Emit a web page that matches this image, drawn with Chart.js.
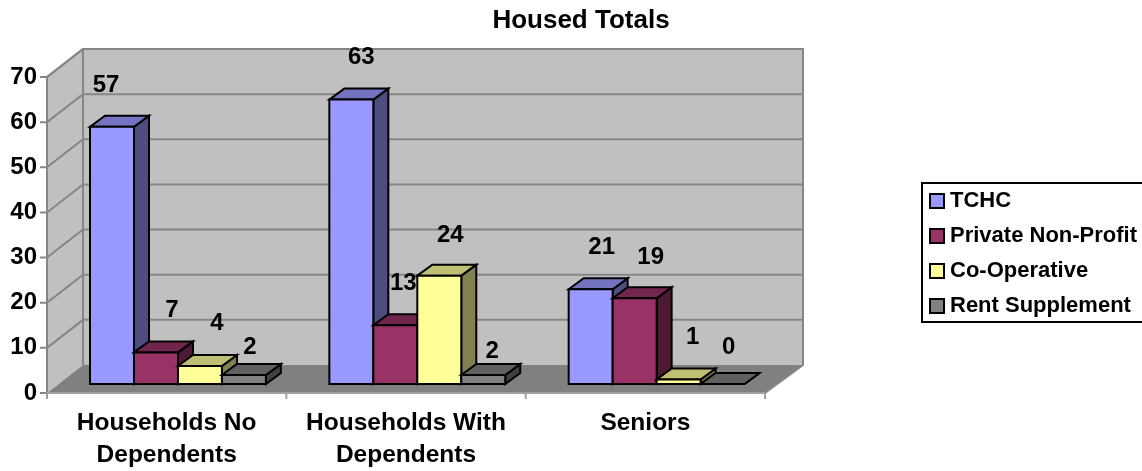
<!DOCTYPE html>
<html>
<head>
<meta charset="utf-8">
<title>Housed Totals</title>
<style>
  html, body { margin: 0; padding: 0; background: #fff; }
  canvas { display: block; }
</style>
<script src="https://cdn.jsdelivr.net/npm/chart.js@4"></script>
</head>
<body>
<canvas id="chart" width="1142" height="471"></canvas>
<script>
const chartTitle = "Housed Totals";
const categories = [["Households No", "Dependents"], ["Households With", "Dependents"], ["Seniors"]];
const seriesNames = ["TCHC", "Private Non-Profit", "Co-Operative", "Rent Supplement"];
const tchc = [57, 63, 21];
const privateNonProfit = [7, 13, 19];
const coOperative = [4, 24, 1];
const rentSupplement = [2, 2, 0];
const yTicks = [0, 10, 20, 30, 40, 50, 60, 70];

const frontColors = ["#9999FF", "#993366", "#FFFF99", "#808080"];
const topColors = ["#7373BF", "#73264D", "#BFBF73", "#606060"];
const sideColors = ["#4D4D80", "#4D1A33", "#808050", "#404040"];

// label nudges from the bar's top centre, one [dx, dy] per series/category
const labelNudges = [
  [[-6, -41], [10, -42], [11, -42]],
  [[16, -42], [8, -42], [16, -41]],
  [[17, -43], [11, -40], [14, -42]],
  [[6, -28], [9, -24], [6, -37]]
];

const FONT = "'Liberation Sans', Arial, sans-serif";
const WALL = "#C0C0C0", WALL_LINE = "#868686", FLOOR = "#808080", AXIS_LINE = "#A0A0A0";
const wallDx = 36, wallDy = 28;       // depth of the chart box
const barShiftX = 11.3, barShiftY = 9; // bars stand inside the floor
const barDx = 15, barDy = 11;         // depth of one bar

function poly(ctx, pts, fill, stroke, lw) {
  ctx.beginPath();
  pts.forEach((p, i) => (i ? ctx.lineTo(p[0], p[1]) : ctx.moveTo(p[0], p[1])));
  ctx.closePath();
  if (fill) { ctx.fillStyle = fill; ctx.fill(); }
  if (stroke) { ctx.strokeStyle = stroke; ctx.lineWidth = lw; ctx.stroke(); }
}

const box3d = {
  id: "box3d",
  beforeDatasetsDraw(chart) {
    const { ctx, chartArea: a, scales: { x, y } } = chart;
    ctx.save();
    ctx.lineJoin = "miter";
    // walls and floor
    poly(ctx, [[a.left, a.bottom], [a.left, a.top], [a.left + wallDx, a.top - wallDy], [a.left + wallDx, a.bottom - wallDy]], WALL);
    poly(ctx, [[a.left + wallDx, a.top - wallDy], [a.right + wallDx + 2, a.top - wallDy], [a.right + wallDx + 2, a.bottom - wallDy], [a.left + wallDx, a.bottom - wallDy]], WALL);
    poly(ctx, [[a.left, a.bottom], [a.right, a.bottom], [a.right + wallDx + 2, a.bottom - wallDy], [a.left + wallDx, a.bottom - wallDy]], FLOOR);

    // grid lines on the walls, tick marks on the front
    ctx.strokeStyle = WALL_LINE;
    ctx.lineWidth = 2;
    yTicks.forEach((v) => {
      const py = y.getPixelForValue(v);
      ctx.beginPath();
      if (v > 0) {
        ctx.moveTo(a.left, py);
        ctx.lineTo(a.left + wallDx, py - wallDy);
        ctx.lineTo(a.right + wallDx + 2, py - wallDy);
      }
      ctx.moveTo(a.left - 7, py);
      ctx.lineTo(a.left, py);
      ctx.stroke();
    });
    // outline
    ctx.beginPath();
    ctx.moveTo(a.left, a.bottom);
    ctx.lineTo(a.left, a.top);
    ctx.lineTo(a.left + wallDx, a.top - wallDy);
    ctx.lineTo(a.right + wallDx + 2, a.top - wallDy);
    ctx.lineTo(a.right + wallDx + 2, a.bottom - wallDy);
    ctx.lineTo(a.right, a.bottom);
    ctx.moveTo(a.left + wallDx, a.top - wallDy);
    ctx.lineTo(a.left + wallDx, a.bottom - wallDy);
    ctx.stroke();

    ctx.strokeStyle = AXIS_LINE;
    ctx.beginPath();
    ctx.moveTo(a.left, a.bottom);
    ctx.lineTo(a.right, a.bottom);
    for (let i = 0; i <= categories.length; i++) {
      const px = a.left + (a.right - a.left) * i / categories.length;
      ctx.moveTo(px, a.bottom);
      ctx.lineTo(px, a.bottom + 6);
    }
    ctx.stroke();

    // bars left to right, so later series overlap the sides of earlier ones
    ctx.translate(barShiftX, -barShiftY);
    ctx.lineWidth = 2;
    categories.forEach((c, ci) => {
      chart.data.datasets.forEach((ds, si) => {
        const el = chart.getDatasetMeta(si).data[ci];
        const { x: cx, y: top, base, width } = el.getProps(["x", "y", "base", "width"], true);
        const l = cx - width / 2, r = cx + width / 2;
        poly(ctx, [[r, top], [r + barDx, top - barDy], [r + barDx, base - barDy], [r, base]], sideColors[si], "#000", 2);
        poly(ctx, [[l, top], [l + barDx, top - barDy], [r + barDx, top - barDy], [r, top]], topColors[si], "#000", 2);
        poly(ctx, [[l, top], [r, top], [r, base], [l, base]], frontColors[si], "#000", 2);
      });
    });
    ctx.restore();
  },
  beforeDatasetDraw() {
    return false; // the bars are painted above with their depth faces
  },
  afterDraw(chart) {
    const { ctx } = chart;
    ctx.save();
    ctx.fillStyle = "#000";
    ctx.textAlign = "center";
    ctx.textBaseline = "middle";

    // title
    ctx.font = "bold 26px " + FONT;
    ctx.fillText(chartTitle, 581, 21);

    // value labels
    ctx.font = "bold 24px " + FONT;
    chart.data.datasets.forEach((ds, si) => {
      chart.getDatasetMeta(si).data.forEach((el, ci) => {
        const n = labelNudges[si][ci];
        ctx.fillText(String(ds.data[ci]), el.x + barShiftX + n[0], el.y - barShiftY + n[1]);
      });
    });

    // legend
    ctx.strokeStyle = "#000";
    ctx.lineWidth = 2;
    ctx.strokeRect(922, 183, 230, 139);
    ctx.textAlign = "left";
    ctx.font = "bold 22px " + FONT;
    seriesNames.forEach((name, i) => {
      const cy = 201 + i * 35;
      ctx.fillStyle = frontColors[i];
      ctx.fillRect(930, cy - 7, 14, 14);
      ctx.strokeRect(930, cy - 7, 14, 14);
      ctx.fillStyle = "#000";
      ctx.fillText(name, 950, cy);
    });
    ctx.restore();
  }
};

const seriesValues = [tchc, privateNonProfit, coOperative, rentSupplement];

new Chart(document.getElementById("chart"), {
  type: "bar",
  data: {
    labels: categories,
    datasets: seriesNames.map((name, i) => ({
      label: name,
      data: seriesValues[i],
      backgroundColor: frontColors[i],
      borderColor: "#000",
      borderWidth: 2,
      categoryPercentage: 0.735,
      barPercentage: 1
    }))
  },
  options: {
    responsive: false,
    animation: false,
    layout: { padding: { top: 77, right: 377, left: 0, bottom: 0 } },
    plugins: {
      legend: { display: false },
      title: { display: false },
      tooltip: { enabled: false }
    },
    scales: {
      x: {
        grid: { display: false },
        border: { display: false },
        afterFit(s) { s.height = 78; },
        ticks: {
          color: "#000",
          maxRotation: 0,
          padding: 6,
          font: { family: FONT, weight: "bold", size: 24.5, lineHeight: 1.3 }
        }
      },
      y: {
        min: 0,
        max: 70,
        grid: { display: false },
        border: { display: false },
        afterFit(s) { s.width = 47; },
        afterBuildTicks(s) { s.ticks = yTicks.map((v) => ({ value: v })); },
        ticks: {
          color: "#000",
          padding: 2,
          font: { family: FONT, weight: "bold", size: 24 }
        }
      }
    }
  },
  plugins: [box3d]
});
</script>
</body>
</html>
